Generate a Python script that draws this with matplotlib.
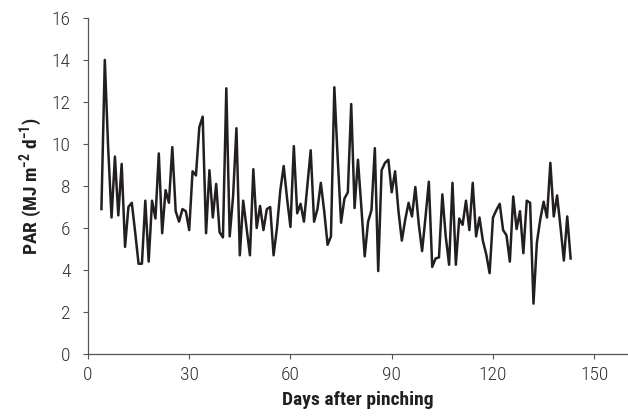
import numpy as np
import matplotlib
matplotlib.use('Agg')
import matplotlib.pyplot as plt

plt.rcParams['font.family'] = ['Roboto Condensed', 'Archivo Narrow', 'DejaVu Sans']
plt.rcParams['mathtext.fontset'] = 'custom'
plt.rcParams['mathtext.rm'] = 'Roboto Condensed'
plt.rcParams['mathtext.bf'] = 'Roboto Condensed:bold'

# daily PAR after pinching
days = np.arange(4, 144)
par = [6.9, 14.0, 9.8, 6.5, 9.4, 6.6, 9.05, 5.1, 7.0, 7.2,
       5.8, 4.3, 4.3, 7.3, 4.4, 7.3, 6.45, 9.55, 5.75, 7.8,
       7.2, 9.85, 6.8, 6.3, 6.9, 6.8, 5.9, 8.7, 8.5, 10.8,
       11.3, 5.75, 8.75, 6.5, 8.1, 5.8, 5.55, 12.65, 5.6, 7.5,
       10.75, 4.7, 7.3, 6.0, 4.7, 8.8, 6.0, 7.05, 5.9, 6.9,
       7.0, 4.7, 6.0, 7.8, 8.95, 7.4, 6.05, 9.9, 6.7, 7.15,
       6.3, 8.0, 9.7, 6.3, 6.9, 8.15, 6.8, 5.2, 5.6, 12.7,
       9.3, 6.25, 7.4, 7.7, 11.9, 6.95, 9.25, 7.0, 4.65, 6.3,
       6.85, 9.8, 3.95, 8.75, 9.1, 9.25, 7.7, 8.7, 6.8, 5.4,
       6.4, 7.2, 6.55, 7.95, 6.2, 4.9, 6.5, 8.2, 4.15, 4.55,
       4.6, 7.6, 5.6, 4.25, 8.15, 4.25, 6.45, 6.15, 7.3, 5.9,
       8.15, 5.6, 6.5, 5.4, 4.75, 3.85, 6.5, 6.85, 7.15, 5.9,
       5.65, 4.4, 7.5, 5.95, 6.8, 4.8, 7.3, 7.2, 2.4, 5.3,
       6.4, 7.25, 6.5, 9.1, 6.55, 7.55, 6.05, 4.45, 6.55, 4.55]

xticks = [0, 30, 60, 90, 120, 150]
yticks = np.arange(0, 17, 2)

fig = plt.figure(figsize=(6.28, 4.17), dpi=100)
ax = fig.add_axes([0.140, 0.151, 0.860, 0.806])
ax.plot(days, par, '-', color='#231f20', lw=1.8, solid_joinstyle='round')

ax.set_xlim(0, 160)
ax.set_ylim(0, 16)
ax.set_xticks(xticks)
ax.set_yticks(yticks)
ax.tick_params(direction='out', length=3.5, width=0.8, colors='#555555',
               labelsize=14, labelcolor='#333333')
ax.tick_params(axis='y', pad=9)
ax.tick_params(axis='x', pad=5)
for lab in ax.get_xticklabels() + ax.get_yticklabels():
    lab.set_fontweight('light')
for s in ['top', 'right']:
    ax.spines[s].set_visible(False)
for s in ['left', 'bottom']:
    ax.spines[s].set_color('#555555')
    ax.spines[s].set_linewidth(0.9)

ax.set_xlabel('Days after pinching', fontsize=14, fontweight='bold', color='#231f20', labelpad=5)
ax.set_ylabel(r'PAR (MJ m$^{\mathbf{-2}}$ d$^{\mathbf{-1}}$)', fontsize=14, fontweight='bold',
              color='#231f20', labelpad=5)

fig.savefig('out.png', dpi=100)
